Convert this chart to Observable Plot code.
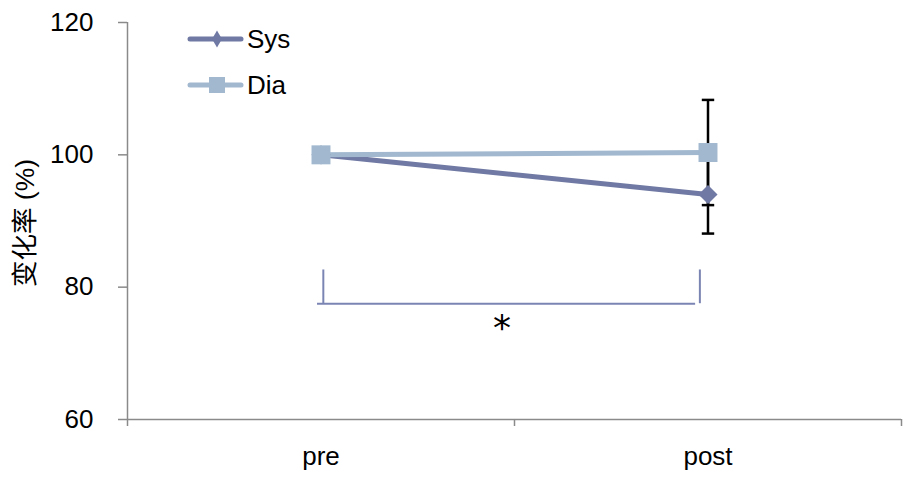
<!DOCTYPE html>
<html><head><meta charset="utf-8">
<script src="https://cdn.jsdelivr.net/npm/d3@7"></script>
<script src="https://cdn.jsdelivr.net/npm/@observablehq/plot@0.6"></script>
<style>
body{margin:0;background:#fff;}
#wrap{position:relative;width:905px;height:477px;}
#legend{position:absolute;left:0;top:0;pointer-events:none;}
</style></head><body><div id="wrap"></div>
<script>
// ---- data ----
const categories = ["pre", "post"];
const seriesNames = ["Sys", "Dia"];
const sysValues = [100, 94.0];
const diaValues = [100, 100.35];
const sysErr = [0, 5.9];
const diaErr = [0, 7.95];
const yTicks = [60, 80, 100, 120];
const bracketTickX = [0.506, 1.479];
const bracketLineX = [0.491, 1.468];
const bracketY = [82.6, 77.5];
const starPos = [0.968, 74.6];
const yLabel = "变化率 (%)";

const FONT = '"Liberation Sans", "Noto Sans CJK SC", sans-serif';
const colors = {Sys: "#6f79a3", Dia: "#a1b8cf"};
const axisColor = "#8a8a8a";

const rows = [];
categories.forEach((c, i) => {
  rows.push({series: "Sys", cat: c, pos: i + 0.5, value: sysValues[i], err: sysErr[i]});
  rows.push({series: "Dia", cat: c, pos: i + 0.5, value: diaValues[i], err: diaErr[i]});
});
const errRows = rows.filter(d => d.err > 0);
const capRows = errRows.flatMap(d => [{pos: d.pos, y: d.value + d.err}, {pos: d.pos, y: d.value - d.err}]);
const sysRows = rows.filter(d => d.series === "Sys");
const diaRows = rows.filter(d => d.series === "Dia");

const hline = {draw(ctx, size) { const w = Math.sqrt(size) / 2; ctx.moveTo(-w, 0); ctx.lineTo(w, 0); }};

const chart = Plot.plot({
  width: 905, height: 477,
  marginLeft: 127, marginRight: 4, marginTop: 22, marginBottom: 58,
  style: {fontFamily: FONT, fontSize: "26px", color: "#000", background: "#fff"},
  x: {type: "linear", domain: [0, categories.length]},
  y: {domain: [60, 120]},
  marks: [
    Plot.ruleY([60], {stroke: axisColor, strokeWidth: 1.5}),
    Plot.ruleX([0], {stroke: axisColor, strokeWidth: 1.5}),
    Plot.axisY({ticks: yTicks, tickSize: 9, tickPadding: 25, stroke: axisColor, strokeWidth: 1.5, fontSize: 26, label: null, tickFormat: d => d}),
    Plot.axisX({ticks: [0, 1, 2], tickSize: 7, tickFormat: () => "", stroke: axisColor, strokeWidth: 1.5, label: null}),
    Plot.axisX({ticks: categories.map((c, i) => i + 0.5), tickSize: 0, tickPadding: 27, tickFormat: d => categories[Math.floor(d)], fontSize: 26, label: null}),
    Plot.text([yLabel], {frameAnchor: "left", textAnchor: "middle", rotate: -90, dx: -102, dy: 2, fontSize: 26.5}),
    // error bars
    Plot.ruleX(errRows, {x: "pos", y1: d => d.value - d.err, y2: d => d.value + d.err, stroke: "#000", strokeWidth: 2.5}),
    Plot.dot(capRows, {x: "pos", y: "y", symbol: hline, r: 7, stroke: "#000", strokeWidth: 2.5}),
    // lines
    Plot.line(sysRows, {x: "pos", y: "value", stroke: colors.Sys, strokeWidth: 5}),
    Plot.line(diaRows, {x: "pos", y: "value", stroke: colors.Dia, strokeWidth: 5}),
    Plot.dot(sysRows, {x: "pos", y: "value", symbol: "diamond2", r: 8.6, fill: colors.Sys, stroke: null}),
    Plot.dot(diaRows, {x: "pos", y: "value", symbol: "square", r: 10.7, fill: colors.Dia, stroke: null}),
    // significance bracket
    Plot.ruleX(bracketTickX, {x: d => d, y1: bracketY[0], y2: bracketY[1], stroke: "#7b85b3", strokeWidth: 2}),
    Plot.ruleY([bracketY[1]], {x1: bracketLineX[0], x2: bracketLineX[1], stroke: "#7b85b3", strokeWidth: 2}),
    Plot.text(["*"], {x: starPos[0], y: starPos[1], fontSize: 36, dy: 6, lineAnchor: "middle", fontFamily: '"DejaVu Sans", sans-serif'})
  ]
});
document.getElementById("wrap").appendChild(chart);

// legend overlay
const leg = d3.select("#wrap").append("svg").attr("id", "legend").attr("width", 905).attr("height", 477);
const legendItems = [
  {name: seriesNames[0], sym: d3.symbolDiamond, size: 85, cy: 39},
  {name: seriesNames[1], sym: d3.symbolSquare, size: 256, cy: 85}
];
legendItems.forEach(it => {
  const g = leg.append("g");
  g.append("line").attr("x1", 190).attr("x2", 241).attr("y1", it.cy).attr("y2", it.cy)
    .attr("stroke", colors[it.name]).attr("stroke-width", 5).attr("stroke-linecap", "round");
  g.append("path").attr("d", d3.symbol(it.sym, it.size)()).attr("transform", `translate(217,${it.cy})`).attr("fill", colors[it.name]);
  g.append("text").attr("x", 247).attr("y", it.cy + 9).attr("font-family", FONT).attr("font-size", 26).text(it.name);
});
</script></body></html>
